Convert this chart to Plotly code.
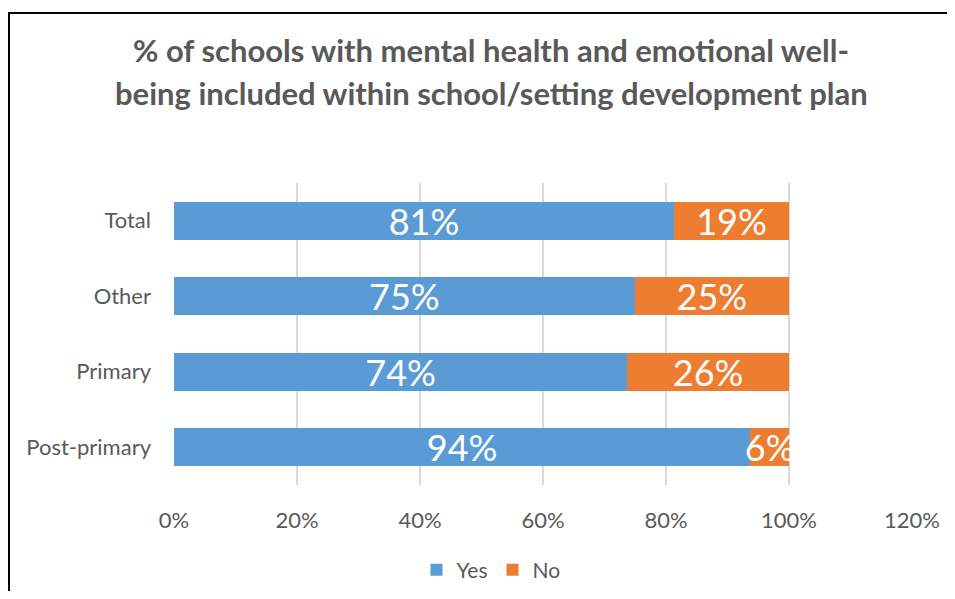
import plotly.graph_objects as go

categories = ["Post-primary", "Primary", "Other", "Total"]
yes_values = [0.937, 0.737, 0.749, 0.813]
no_values = [0.063, 0.263, 0.251, 0.187]
series_names = ["Yes", "No"]
tick_vals = [0, 0.2, 0.4, 0.6, 0.8, 1.0, 1.2]
tick_text = ["0%", "20%", "40%", "60%", "80%", "100%", "120%"]
title_lines = ["% of schools with mental health and emotional well-",
               "being included within school/setting development plan"]

FONT = "Lato, Open Sans, sans-serif"
GREY = "#595959"

fig = go.Figure()
for name, vals, color in [(series_names[0], yes_values, "#5B9BD5"),
                          (series_names[1], no_values, "#ED7D31")]:
    fig.add_trace(go.Bar(
        y=categories, x=vals, name=name, orientation="h",
        marker=dict(color=color, line=dict(width=0)),
        texttemplate="%{x:.0%}", textposition="inside",
        insidetextanchor="middle",
        textfont=dict(color="white", size=36, family=FONT),
        hoverinfo="skip",
    ))

# page body has an 8px margin, so the figure is offset by 8px;
# keep the figure small enough that the page does not scroll
OFF = 8
W, H = 955 - 2 * OFF, 599 - 2 * OFF
L, T = 174 - OFF, 183 - OFF
R = W - (912 - OFF)
B = H - (485 - OFF)
pw, ph = W - L - R, H - T - B

def px_x(x):
    return (x - OFF - L) / pw

def px_y(y):
    return (H - B - (y - OFF)) / ph

fig.update_layout(
    width=W, height=H, barmode="stack", bargap=0.5,
    margin=dict(l=L, r=R, t=T, b=B, pad=0, autoexpand=False),
    paper_bgcolor="white", plot_bgcolor="white",
    font=dict(family=FONT, color=GREY, size=22),
    uniformtext=dict(minsize=36, mode="show"),
    xaxis=dict(range=[0, 1.2], tickvals=tick_vals, ticktext=tick_text,
               showgrid=True, gridcolor="#D9D9D9", gridwidth=2,
               zeroline=False, showline=False, ticks="", automargin=False,
               ticklabelstandoff=20,
               tickfont=dict(size=22, color=GREY), fixedrange=True),
    yaxis=dict(categoryorder="array", categoryarray=categories,
               showgrid=False, showline=False, ticks="", automargin=False,
               ticklabelstandoff=22,
               tickfont=dict(size=22, color=GREY), fixedrange=True),
    showlegend=True,
    legend=dict(orientation="h", x=px_x(491), xanchor="center",
                y=px_y(570), yanchor="middle",
                font=dict(size=21, color=GREY), itemwidth=30,
                traceorder="normal"),
    annotations=[
        dict(text="<b>" + title_lines[0] + "</b>", xref="paper", yref="paper",
             x=px_x(491), y=px_y(50), showarrow=False,
             xanchor="center", yanchor="middle",
             font=dict(size=31, color=GREY, family=FONT)),
        dict(text="<b>" + title_lines[1] + "</b>", xref="paper", yref="paper",
             x=px_x(491), y=px_y(93), showarrow=False,
             xanchor="center", yanchor="middle",
             font=dict(size=31, color=GREY, family=FONT)),
    ],
    shapes=[
        dict(type="line", xref="paper", yref="paper",
             x0=px_x(9), x1=px_x(9), y0=px_y(OFF + H), y1=px_y(12),
             line=dict(color="black", width=2), layer="above"),
        dict(type="line", xref="paper", yref="paper",
             x0=px_x(8), x1=px_x(OFF + W), y0=px_y(13), y1=px_y(13),
             line=dict(color="black", width=2), layer="above"),
    ],
)

fig.write_html("out.html", config={"displayModeBar": False})
